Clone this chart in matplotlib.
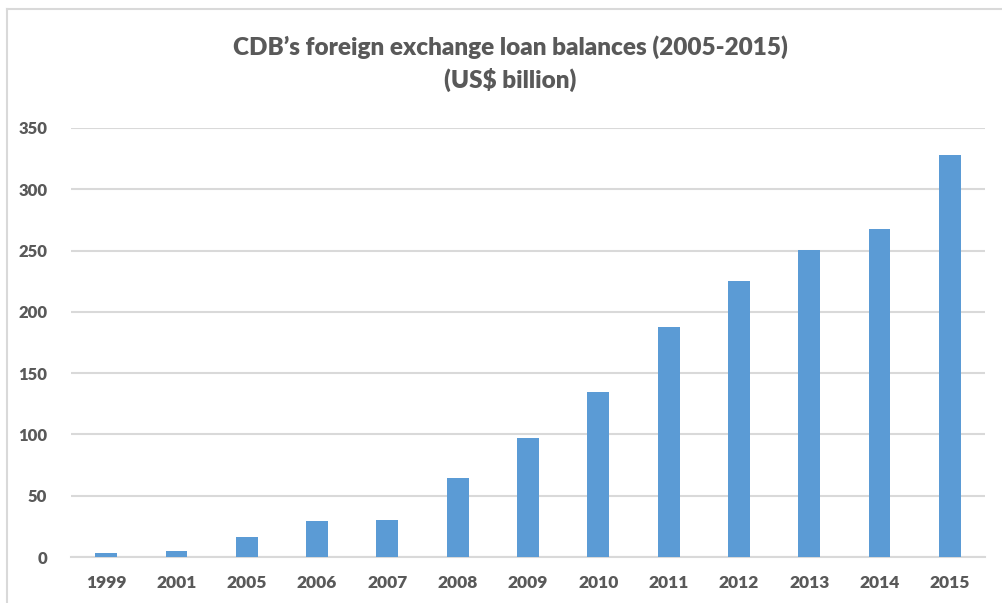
import matplotlib.pyplot as plt
from matplotlib.lines import Line2D

years = ["1999", "2001", "2005", "2006", "2007", "2008", "2009",
         "2010", "2011", "2012", "2013", "2014", "2015"]
balances = [3, 5, 16, 29, 30, 64.5, 97, 134.5, 187.5, 225, 250.5, 267.5, 328]
y_ticks = [0, 50, 100, 150, 200, 250, 300, 350]

plt.rcParams['font.family'] = ['Lato', 'DejaVu Sans']
text_col = "#595959"
grid_col = "#d9d9d9"

W, H = 1003, 603
fig = plt.figure(figsize=(W / 100, H / 100), dpi=100)
ax = fig.add_axes([71 / W, (H - 557) / H, (985 - 71) / W, (557 - 128) / H])

x = range(len(years))
ax.bar(x, balances, width=0.31, color="#5b9bd5", zorder=3)

ax.set_xlim(-0.5, len(years) - 0.5)
ax.set_ylim(0, 350)
ax.set_yticks(y_ticks)
ax.set_yticklabels([str(v) for v in y_ticks], fontsize=12, fontweight="heavy", color=text_col)
ax.set_xticks(list(x))
ax.set_xticklabels(years, fontsize=12.5, fontweight="heavy", color=text_col)
ax.tick_params(length=0)
ax.tick_params(axis="y", pad=17)
ax.tick_params(axis="x", pad=13)
ax.grid(axis="y", color=grid_col, linewidth=1.5, zorder=0)
for s in ["top", "right", "left"]:
    ax.spines[s].set_visible(False)
ax.spines["bottom"].set_color(grid_col)
ax.spines["bottom"].set_linewidth(1.5)

fig.text(510 / W, 1 - 47 / H, "CDB\u2019s foreign exchange loan balances (2005-2015)",
         ha="center", va="center", fontsize=17.5, fontweight="heavy", color=text_col)
fig.text(510 / W, 1 - 80 / H, "(US$ billion)",
         ha="center", va="center", fontsize=17.5, fontweight="heavy", color=text_col)

# chart frame (top and left edges visible)
fig.add_artist(Line2D([7 / W, 1], [1 - 9 / H, 1 - 9 / H], color=grid_col, linewidth=1.5))
fig.add_artist(Line2D([7 / W, 7 / W], [0, 1 - 9 / H], color=grid_col, linewidth=1.5))

fig.savefig("out.png", dpi=100)
